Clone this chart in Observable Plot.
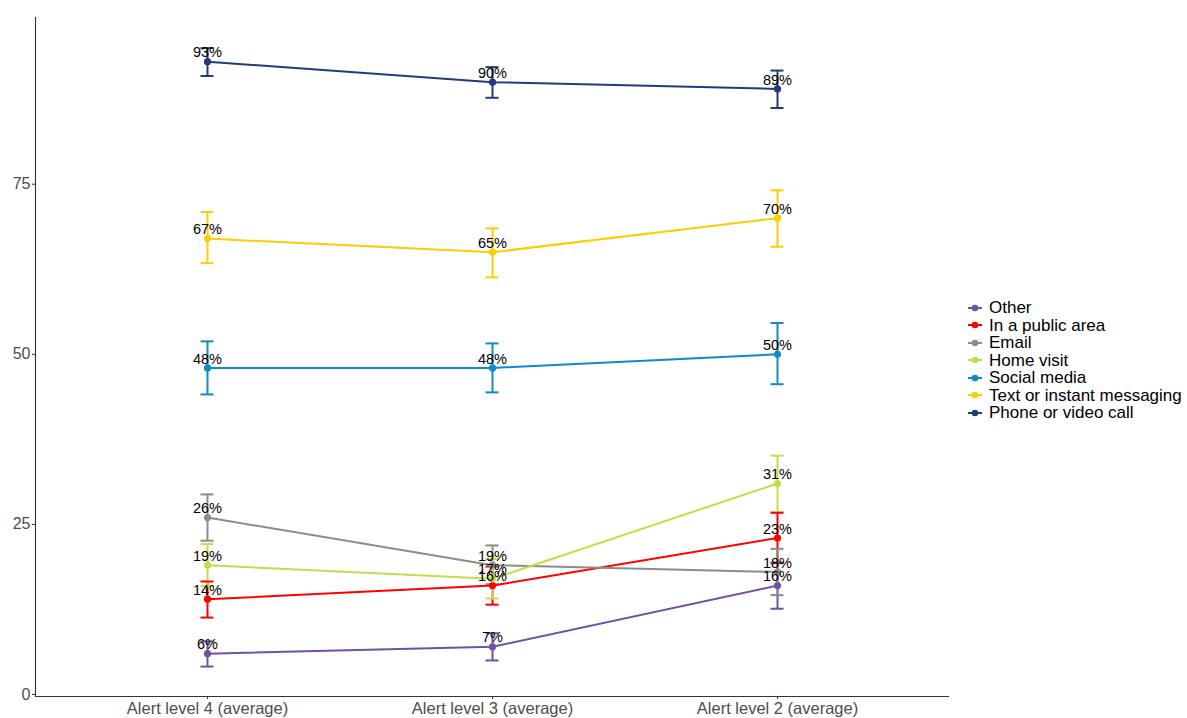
<!DOCTYPE html>
<html>
<head>
<meta charset="utf-8">
<script src="https://cdn.jsdelivr.net/npm/d3@7"></script>
<script src="https://cdn.jsdelivr.net/npm/@observablehq/plot@0.6"></script>
<style>
  html, body { margin: 0; padding: 0; background: #fff; }
  #wrap { position: relative; width: 1187px; height: 718px; font-family: "Liberation Sans", Arial, sans-serif; }
  #chart { position: absolute; left: 0; top: 0; }
  #legend { position: absolute; left: 967px; top: 299px; }
  .item { display: flex; align-items: center; height: 17.5px; font-size: 17px; line-height: 17.5px; color: #000; white-space: nowrap; }
  .item svg { margin-right: 6px; }
</style>
</head>
<body>
<div id="wrap">
  <div id="chart"></div>
  <div id="legend"></div>
</div>
<script>
// Survey periods along the x axis
const periods = ["Alert level 4 (average)", "Alert level 3 (average)", "Alert level 2 (average)"];

// Contact modes, in legend order
const modes = ["Other", "In a public area", "Email", "Home visit", "Social media", "Text or instant messaging", "Phone or video call"];
const colors = ["#7350a4", "#ff0000", "#8c8c8c", "#c5dc4a", "#0f8bc6", "#ffcc00", "#22397a"];

// Percentages per mode (one value per period)
const other    = [6, 7, 16];
const publicA  = [14, 16, 23];
const email    = [26, 19, 18];
const home     = [19, 17, 31];
const social   = [48, 48, 50];
const texting  = [67, 65, 70];
const phone    = [93, 90, 89];

// Lower and upper confidence bounds
const otherLo   = [4.1, 5.0, 12.6],   otherHi   = [7.8, 9.0, 19.4];
const publicLo  = [11.3, 13.2, 19.3], publicHi  = [16.6, 18.8, 26.7];
const emailLo   = [22.6, 16.2, 14.6], emailHi   = [29.4, 21.9, 21.4];
const homeLo    = [15.9, 14.1, 26.8], homeHi    = [22.1, 19.9, 35.1];
const socialLo  = [44.1, 44.4, 45.6], socialHi  = [51.9, 51.6, 54.6];
const textingLo = [63.4, 61.3, 65.8], textingHi = [70.9, 68.5, 74.1];
const phoneLo   = [90.9, 87.7, 86.2], phoneHi   = [95.0, 92.2, 91.7];

const yTicks = [0, 25, 50, 75];

const values = [other, publicA, email, home, social, texting, phone];
const lows   = [otherLo, publicLo, emailLo, homeLo, socialLo, textingLo, phoneLo];
const highs  = [otherHi, publicHi, emailHi, homeHi, socialHi, textingHi, phoneHi];

const rows = [];
modes.forEach((m, i) => {
  periods.forEach((p, j) => {
    rows.push({mode: m, period: p, value: values[i][j], lo: lows[i][j], hi: highs[i][j]});
  });
});

const color = {domain: modes, range: colors};
const cap = {x1: "period", x2: "period", stroke: "mode", strokeWidth: 2, insetLeft: -6.5, insetRight: -6.5};

const chart = Plot.plot({
  width: 950,
  height: 718,
  marginLeft: 35,
  marginRight: 2,
  marginTop: 17,
  marginBottom: 22,
  style: {fontFamily: "Liberation Sans, Arial, sans-serif", background: "#fff"},
  x: {type: "point", domain: periods, padding: 0.6, label: null},
  y: {domain: [-0.3, 99.5], label: null},
  color,
  marks: [
    Plot.axisY({ticks: yTicks, tickSize: 3, tickPadding: 2, fontSize: 16, color: "#4d4d4d", stroke: "#333", label: null}),
    Plot.axisX({tickSize: 3, tickPadding: 3, fontSize: 16.5, color: "#4d4d4d", stroke: "#333", label: null}),
    Plot.frame({anchor: "left", stroke: "#333", strokeWidth: 1.1}),
    Plot.frame({anchor: "bottom", stroke: "#333", strokeWidth: 1.1}),
    // error bars: stem and caps
    Plot.ruleX(rows, {x: "period", y1: "lo", y2: "hi", stroke: "mode", strokeWidth: 2}),
    Plot.ruleY(rows, {y: "lo", ...cap}),
    Plot.ruleY(rows, {y: "hi", ...cap}),
    Plot.line(rows, {x: "period", y: "value", z: "mode", stroke: "mode", strokeWidth: 2}),
    Plot.dot(rows, {x: "period", y: "value", fill: "mode", r: 3.6}),
    Plot.text(rows, {x: "period", y: "value", text: d => d.value + "%", dy: -9, fontSize: 14.5, fill: "#000"})
  ]
});
document.getElementById("chart").appendChild(chart);

// Legend: line-and-dot key for each mode
const legend = document.getElementById("legend");
modes.forEach((m, i) => {
  const row = document.createElement("div");
  row.className = "item";
  row.innerHTML = `<svg width="16" height="10"><line x1="1" x2="15" y1="5" y2="5" stroke="${colors[i]}" stroke-width="2"/><circle cx="8" cy="5" r="3.3" fill="${colors[i]}"/></svg><span>${m}</span>`;
  legend.appendChild(row);
});
</script>
</body>
</html>
